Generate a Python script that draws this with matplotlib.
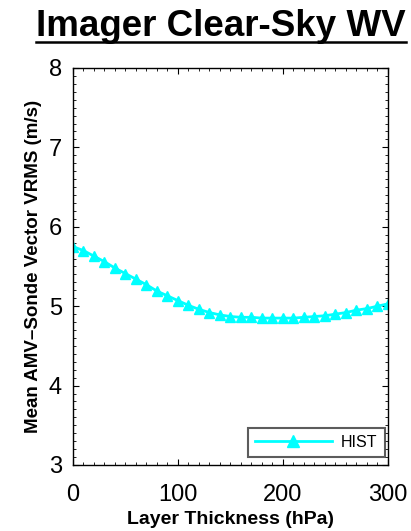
import matplotlib
matplotlib.use("Agg")
import matplotlib.pyplot as plt
from matplotlib.ticker import MultipleLocator
from matplotlib.lines import Line2D

plt.rcParams['font.family'] = ['Liberation Sans', 'DejaVu Sans']

thickness = [0, 10, 20, 30, 40, 50, 60, 70, 80, 90, 100, 110, 120, 130, 140, 150,
             160, 170, 180, 190, 200, 210, 220, 230, 240, 250, 260, 270, 280, 290, 300]
hist_vrms = [5.75, 5.70, 5.63, 5.56, 5.48, 5.41, 5.34, 5.27, 5.19, 5.13, 5.07, 5.01,
             4.96, 4.92, 4.89, 4.87, 4.86, 4.86, 4.85, 4.85, 4.85, 4.85, 4.86, 4.87,
             4.88, 4.90, 4.92, 4.95, 4.97, 5.00, 5.03]

fig = plt.figure(figsize=(4.11, 5.31), dpi=100)
ax = fig.add_axes([0.1776, 0.1243, 0.7664, 0.7477])

ax.plot(thickness, hist_vrms, color='#00FFFF', linewidth=2, marker='^',
        markersize=7.5, markeredgecolor='#00FFFF', label='HIST')

ax.set_xlim(0, 300)
ax.set_ylim(3, 8)
ax.xaxis.set_major_locator(MultipleLocator(100))
ax.xaxis.set_minor_locator(MultipleLocator(10))
ax.yaxis.set_major_locator(MultipleLocator(1))
ax.yaxis.set_minor_locator(MultipleLocator(0.1))
ax.tick_params(which='both', direction='in', top=True, right=True, labelsize=17)
ax.tick_params(axis='x', which='major', pad=14)
ax.tick_params(axis='y', which='major', pad=8)
ax.tick_params(which='major', length=4, width=0.8)
ax.tick_params(which='minor', length=2, width=0.6)
for s in ax.spines.values():
    s.set_linewidth(1.0)

ax.set_xlabel('Layer Thickness (hPa)', fontsize=14, fontweight='bold', labelpad=3)
ax.set_ylabel('Mean AMV\u2013Sonde Vector VRMS (m/s)', fontsize=13.5, fontweight='bold', labelpad=5)

leg = ax.legend(loc='lower right', fontsize=11.5, frameon=True, fancybox=False,
                edgecolor='#333333', handlelength=4.8, handletextpad=0.6,
                borderpad=0.45, borderaxespad=0, markerscale=1.1,
                bbox_to_anchor=(0.990, 0.020))
leg.get_frame().set_linewidth(1.5)

title = fig.text(0.538, 0.932, 'Imager Clear-Sky WV', ha='center', va='baseline',
                 fontsize=26.5, fontweight='bold')
fig.canvas.draw()
bb = title.get_window_extent().transformed(fig.transFigure.inverted())
y_ul = 0.921
fig.add_artist(Line2D([bb.x0, bb.x1], [y_ul, y_ul], color='black', linewidth=1.8,
                      transform=fig.transFigure))

fig.savefig('out.png', dpi=100)
